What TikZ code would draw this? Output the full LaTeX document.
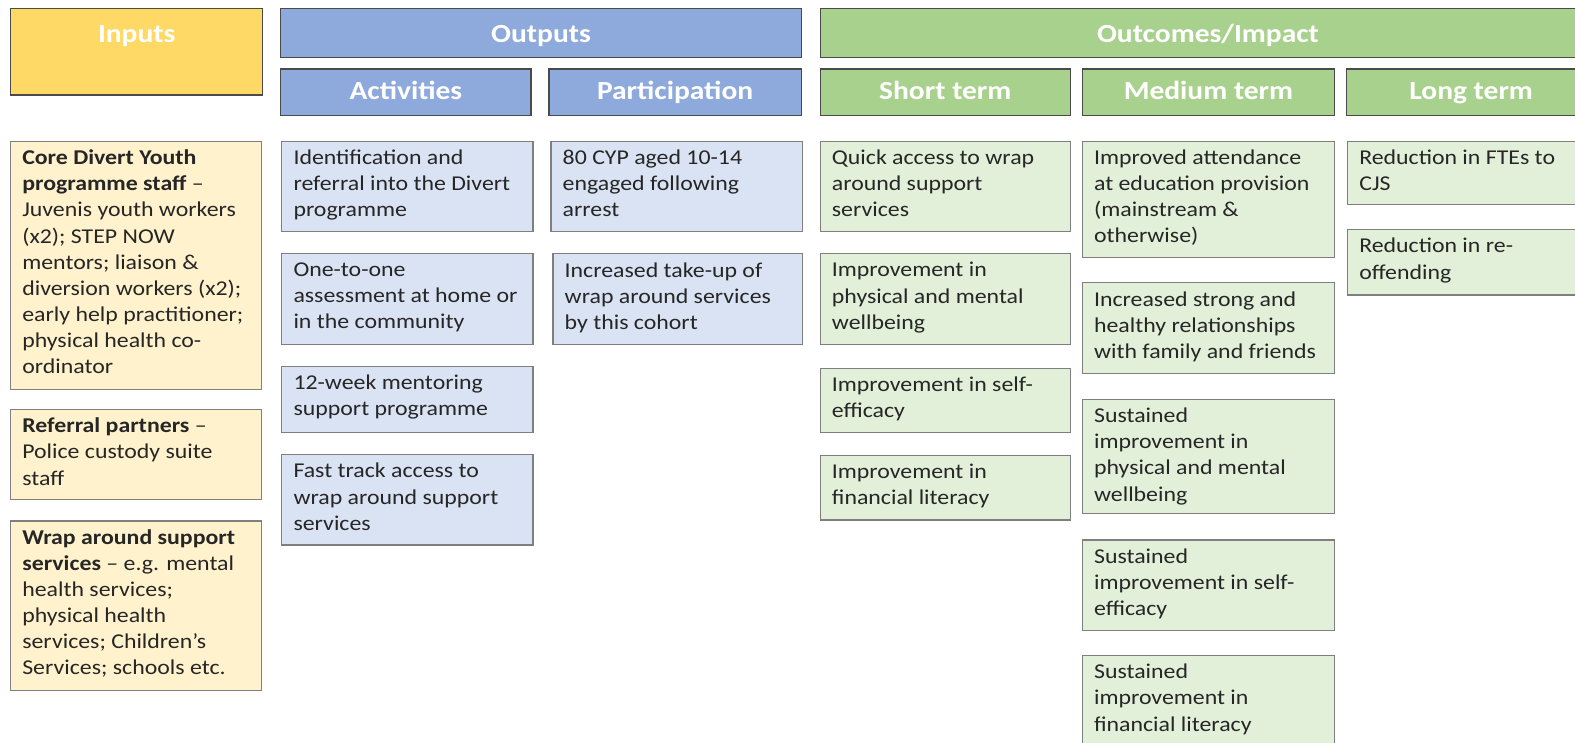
\documentclass[tikz,border=0pt]{standalone}
\usepackage{fontspec}
\setmainfont[FakeStretch=1.13]{Carlito}
\definecolor{inhead}{HTML}{FFD966}
\definecolor{outhead}{HTML}{8EA9DB}
\definecolor{ochead}{HTML}{A9D18E}
\definecolor{inbody}{HTML}{FFF2CC}
\definecolor{outbody}{HTML}{DAE3F3}
\definecolor{ocbody}{HTML}{E2F0D9}
\definecolor{txtc}{HTML}{262626}
\definecolor{bord}{HTML}{7F7F7F}
\definecolor{hbord}{HTML}{4A4A4A}
\newcommand\lmbox[7]{%
  \node[#6, anchor=north west, minimum width=#4pt, minimum height=#5pt] (#1) at (#2,#3) {};
  \node[txt, anchor=north west] (#1-t) at ([xshift=12pt,yshift=-9pt]#1.north west) {#7};}
\newcommand\lmhead[9]{%
  \node[#6, anchor=north west, minimum width=#4pt, minimum height=#5pt] (#1) at (#2,#3) {};
  \node[htxt] (#1-t) at ([xshift=#8pt,yshift=-#9pt]#1.north) {#7};}
\begin{document}
\begin{tikzpicture}[x=1pt,y=-1pt,
  base/.style={rectangle, inner sep=0pt, line width=1.2pt},
  hin/.style={base, fill=inhead, draw=hbord},
  hout/.style={base, fill=outhead, draw=hbord},
  hoc/.style={base, fill=ochead, draw=hbord},
  bin/.style={base, fill=inbody, draw=bord},
  bout/.style={base, fill=outbody, draw=bord},
  boc/.style={base, fill=ocbody, draw=bord},
  txt/.style={inner sep=0pt, align=left, text=txtc, font=\fontsize{21}{26}\selectfont},
  htxt/.style={inner sep=0pt, anchor=base, align=center, text=white, font=\fontsize{26}{30}\selectfont\bfseries}]
\clip (0,0) rectangle (1568,739);
\fill[white] (0,0) rectangle (1568,739);
% headers
\lmhead{hInputs}{10}{8}{251}{86}{hin}{Inputs}{0}{34}
\lmhead{hOutputs}{279}{8}{518}{49}{hout}{Outputs}{0}{34}
\lmhead{hOutcomes}{816}{8}{760}{49}{hoc}{Outcomes/Impact}{6}{34}
\lmhead{hAct}{279}{68}{249}{46}{hout}{Activities}{0}{31}
\lmhead{hPart}{546}{68}{251}{46}{hout}{Participation}{0}{31}
\lmhead{hShort}{816}{68}{249}{46}{hoc}{Short term}{0}{31}
\lmhead{hMed}{1077}{68}{251}{46}{hoc}{Medium term}{0}{31}
\lmhead{hLong}{1340}{68}{240}{46}{hoc}{Long term}{4}{31}
% inputs
\lmbox{in1}{10}{140}{250}{247}{bin}{\textbf{Core Divert Youth}\\\textbf{programme staff} –\\Juvenis youth workers\\(x2); STEP NOW\\mentors; liaison \&\\diversion workers (x2);\\early help practitioner;\\physical health co-\\ordinator}
\lmbox{in2}{10}{407}{250}{90}{bin}{\textbf{Referral partners} –\\Police custody suite\\staff}
\lmbox{in3}{10}{518}{250}{169}{bin}{\textbf{Wrap around support}\\\textbf{services} – e.g. mental\\health services;\\physical health\\services; Children’s\\Services; schools etc.}
% activities
\lmbox{a1}{280}{140}{250}{90}{bout}{Identification and\\referral into the Divert\\programme}
\lmbox{a2}{280}{252}{250}{90}{bout}{One-to-one\\assessment at home or\\in the community}
\lmbox{a3}{280}{364}{250}{66}{bout}{12-week mentoring\\support programme}
\lmbox{a4}{280}{452}{250}{90}{bout}{Fast track access to\\wrap around support\\services}
% participation
\lmbox{p1}{548}{140}{250}{90}{bout}{80 CYP aged 10-14\\engaged following\\arrest}
\lmbox{p2}{550}{252}{248}{90}{bout}{Increased take-up of\\wrap around services\\by this cohort}
% short term
\lmbox{s1}{816}{140}{249}{90}{boc}{Quick access to wrap\\around support\\services}
\lmbox{s2}{816}{252}{249}{90}{boc}{Improvement in\\physical and mental\\wellbeing}
\lmbox{s3}{816}{366}{249}{64}{boc}{Improvement in self-\\efficacy}
\lmbox{s4}{816}{453}{249}{64}{boc}{Improvement in\\financial literacy}
% medium term
\lmbox{m1}{1077}{140}{251}{116}{boc}{Improved attendance\\at education provision\\(mainstream \&\\otherwise)}
\lmbox{m2}{1077}{281}{251}{90}{boc}{Increased strong and\\healthy relationships\\with family and friends}
\lmbox{m3}{1077}{397}{251}{114}{boc}{Sustained\\improvement in\\physical and mental\\wellbeing}
\lmbox{m4}{1077}{537}{251}{90}{boc}{Sustained\\improvement in self-\\efficacy}
\lmbox{m5}{1077}{652}{251}{100}{boc}{Sustained\\improvement in\\financial literacy}
% long term
\lmbox{l1}{1341}{140}{240}{63}{boc}{Reduction in FTEs to\\CJS}
\lmbox{l2}{1341}{228}{240}{65}{boc}{Reduction in re-\\offending}
\end{tikzpicture}
\end{document}
